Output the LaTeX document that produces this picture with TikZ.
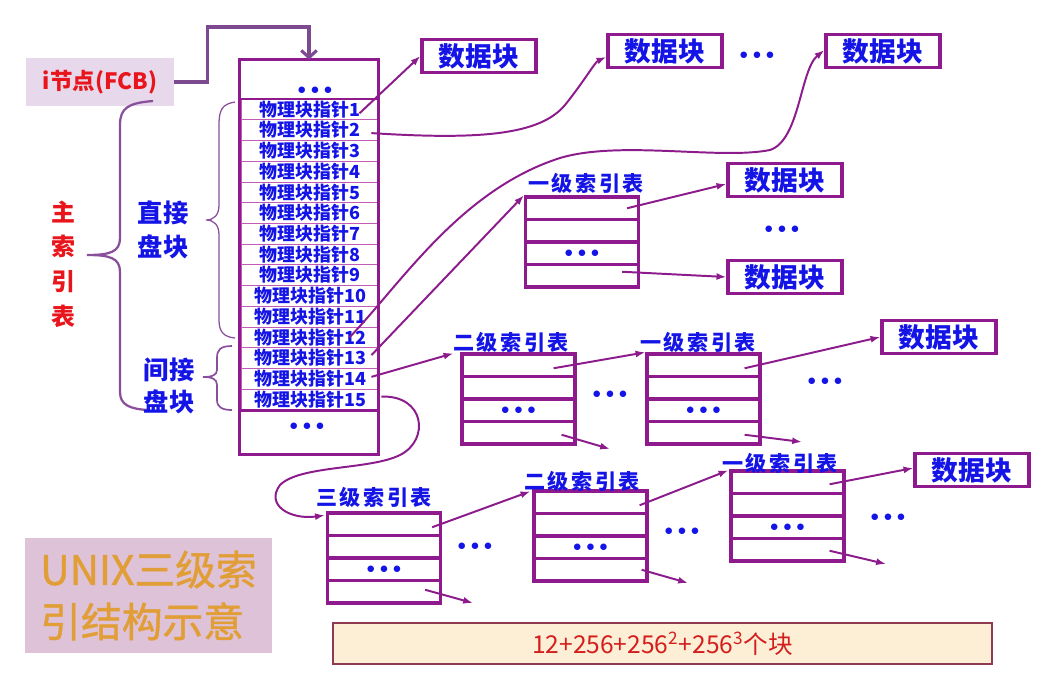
\documentclass[tikz,border=0pt]{standalone}
\usepackage{fontspec}
\setmainfont{Noto Sans CJK SC}
\usetikzlibrary{arrows.meta,calc,positioning}
\definecolor{tblPurple}{HTML}{8E1A8E}
\definecolor{gridPink}{HTML}{C25BB6}
\definecolor{lnkPurple}{HTML}{8C1C8C}
\definecolor{bracePurple}{HTML}{8A4F9C}
\definecolor{inodeLine}{HTML}{7D4A90}
\definecolor{ptrBlue}{HTML}{1414E6}
\definecolor{hiRed}{HTML}{E8161C}
\definecolor{inodeFill}{HTML}{E7D8EB}
\definecolor{unixFill}{HTML}{DDC2D8}
\definecolor{unixGold}{HTML}{E29E36}
\definecolor{sumFill}{HTML}{FDEFD5}
\definecolor{sumEdge}{HTML}{8E3A50}
\definecolor{sumRed}{HTML}{D41E1E}

\newcommand{\bdots}{$\mathord{\bullet}\mkern5mu\mathord{\bullet}\mkern5mu\mathord{\bullet}$}

\begin{document}
\begin{tikzpicture}[x=0.025cm,y=-0.025cm,
  ptrrow/.style={draw=gridPink,line width=.6pt,minimum width=3.45cm,minimum height=.518cm,
    inner sep=0pt,text=ptrBlue,font=\bfseries\fontsize{12.8}{12.8}\selectfont},
  idxrow/.style={draw=tblPurple,line width=2.4pt,minimum width=2.82cm,minimum height=.5625cm,inner sep=0pt},
  datablk/.style={draw=tblPurple,line width=2.3pt,minimum width=2.85cm,minimum height=.82cm,
    inner sep=0pt,text=ptrBlue,font=\bfseries\fontsize{19}{19}\selectfont},
  idxtitle/.style={text=ptrBlue,font=\bfseries\fontsize{15}{15}\selectfont\addfontfeature{LetterSpace=12},inner sep=0pt},
  dotsrow/.style={text=ptrBlue,font=\fontsize{13}{13}\selectfont,inner sep=0pt},
  link/.style={lnkPurple,line width=1.4pt,-{Latex[length=7pt,width=5pt]}}]
  \useasboundingbox (0,0) rectangle (1058,699);

  % main index table
  \node[draw=gridPink,line width=.6pt,minimum width=3.45cm,minimum height=.975cm,inner sep=0pt] (ptop) at (309,79.5) {};
  \foreach \i in {1,...,15}
    \node[ptrrow] (p\i) at (310,{99+(\i-0.5)*20.73}) {物理块指针\i};
  \node[draw=gridPink,line width=.6pt,minimum width=3.45cm,minimum height=1.1cm,inner sep=0pt] (pbot) at (309,432) {};
  \draw[tblPurple,line width=2.4pt] (ptop.north west) rectangle (pbot.south east);
  \draw[tblPurple,line width=1.4pt] (p1.north west) -- (p1.north east);
  \draw[tblPurple,line width=2pt] (p15.south west) -- (p15.south east);
  \node[dotsrow] (topdots) at (315,91) {\bdots};
  \node[dotsrow] (botdots) at (307,427) {\bdots};

  % i-node
  \node[fill=inodeFill,minimum width=3.7cm,minimum height=1.175cm,inner sep=0pt,text=hiRed,
    font=\bfseries\fontsize{16}{16}\selectfont] (inode) at (100,82) {i节点(FCB)};
  \draw[inodeLine,line width=2.2pt,-{Straight Barb[length=5pt,width=11pt]}]
    (inode.east) -- ++(33,0) -- ++(0,-55) -| (ptop.north);

  % braces and their labels
  \draw[bracePurple,line width=1.6pt] (153,101) .. controls (128,103) and (120,108) .. (120,125)
    -- (120,238) .. controls (120,252) and (110,255) .. (87,255)
    .. controls (110,255) and (120,258) .. (120,272) -- (120,392)
    .. controls (120,405) and (130,409) .. (148,410);
  \draw[bracePurple,line width=.9pt] (235,102) .. controls (222,104) and (219,110) .. (219,125)
    -- (219,205) .. controls (219,215) and (214,220) .. (206,220)
    .. controls (214,220) and (219,225) .. (219,235) -- (219,320)
    .. controls (219,332) and (224,337) .. (235,338);
  \draw[bracePurple,line width=1.2pt] (232,346) .. controls (220,346) and (217,350) .. (217,358)
    -- (217,370) .. controls (217,375) and (212,377) .. (203,377)
    .. controls (212,377) and (217,379) .. (217,385) -- (217,400)
    .. controls (217,407) and (222,410) .. (232,410);
  \node[text=hiRed,align=center,font=\bfseries\fontsize{17}{24.6}\selectfont] (mainlbl) at (63,264) {主\\索\\引\\表};
  \node[text=ptrBlue,align=center,font=\bfseries\fontsize{18}{24.6}\selectfont] (direct) at (163,230) {直接\\盘块};
  \node[text=ptrBlue,align=center,font=\bfseries\fontsize{18}{22.8}\selectfont] (indirect) at (169,386) {间接\\盘块};

  % data blocks
  \node[datablk] (d1) at (479,56) {数据块};
  \node[datablk] (d2) at (665,51) {数据块};
  \node[datablk] (d3) at (883,51) {数据块};
  \node[datablk] (d4) at (785,180) {数据块};
  \node[datablk] (d5) at (785,277) {数据块};
  \node[datablk] (d6) at (939,337) {数据块};
  \node[datablk] (d7) at (972,470) {数据块};

  % index tables
  \foreach \t/\cx/\top in {A/582/197,B/518.5/354,C/703.5/354,D/384/513,E/590.5/491,F/787.5/471}{
    \foreach \r in {1,...,4}
      \node[idxrow] (\t\r) at (\cx,{\top+(\r-0.5)*22.5}) {};
    \node[dotsrow] (\t-dots) at (\t3) {\bdots};
  }
  \node[idxtitle] (At) at (586,183) {一级索引表};
  \node[idxtitle] (Bt) at (511,342) {二级索引表};
  \node[idxtitle] (Ct) at (698,342) {一级索引表};
  \node[idxtitle] (Dt) at (374,497) {三级索引表};
  \node[idxtitle] (Et) at (582,481) {二级索引表};
  \node[idxtitle] (Ft) at (780,463) {一级索引表};

  % ellipses between blocks
  \node[dotsrow] (dotsA) at (757,56) {\bdots};
  \node[dotsrow] (dotsB) at (782,230) {\bdots};
  \node[dotsrow] (dotsC) at (610,395) {\bdots};
  \node[dotsrow] (dotsD) at (825,382) {\bdots};
  \node[dotsrow] (dotsE) at (475,547) {\bdots};
  \node[dotsrow] (dotsF) at (682,532) {\bdots};
  \node[dotsrow] (dotsG) at (888,518) {\bdots};

  % pointers from the main table
  \draw[link] ($(p1.east)+(-20,4)$) -- (d1.west);
  \draw[link] ($(p2.east)+(-8,3)$) .. controls (480,140) and (540,135) .. (565,105)
    .. controls (585,80) and (595,62) .. ($(d2.west)+(0,6)$);
  \draw[link] ($(p12.east)+(-30,0)$) .. controls (400,285) and (460,190) .. (560,158)
    .. controls (620,140) and (720,160) .. (770,150)
    .. controls (800,140) and (800,70) .. ($(d3.west)+(0,-1)$);
  \draw[link] ($(p13.east)+(-8,-3)$) -- (A1.north west);
  \draw[link] ($(p14.east)+(-8,-2)$) -- ($(B1.north west)+(-7,1)$);
  \draw[link] ($(p15.east)+(2,-3)$) .. controls (425,395) and (430,440) .. (400,455)
    .. controls (370,470) and (300,465) .. (280,485)
    .. controls (265,505) and (290,520) .. ($(D1.north west)+(-1,4)$);

  % pointers between index tables
  \coordinate (Bout) at (610,449);
  \coordinate (Cout) at (802,442);
  \coordinate (Dout) at (473,603);
  \coordinate (Eout) at (688,583);
  \coordinate (Fout) at (886,564);
  \draw[link] ($(A1.east)+(-13,0)$) -- ($(d4.west)+(0,4)$);
  \draw[link] ($(A4.east)+(-18,-4)$) -- (d5.west);
  \draw[link] ($(B1.east)+(-23,3)$) -- (C1.north west);
  \draw[link] ($(B4.east)+(-15,2)$) -- (Bout);
  \draw[link] ($(C1.east)+(-17,3)$) -- (d6.west);
  \draw[link] ($(C4.east)+(-17,2)$) -- (Cout);
  \draw[link] ($(D1.east)+(-10,3)$) -- ($(E1.north west)+(-2,2)$);
  \draw[link] ($(D4.east)+(-17,-2)$) -- (Dout);
  \draw[link] ($(E1.east)+(-9,3)$) -- ($(F1.north west)+(-1,1)$);
  \draw[link] ($(E4.east)+(-7,0)$) -- (Eout);
  \draw[link] ($(F1.east)+(-16,2)$) -- ($(d7.west)+(0,-2)$);
  \draw[link] ($(F4.east)+(-16,1)$) -- (Fout);

  % caption and total
  \node[fill=unixFill,minimum width=6.175cm,minimum height=2.875cm,align=left,text=unixGold,
    font=\fontsize{29}{37}\selectfont\addfontfeature{FakeBold=1.2}] (unixbox) at (148.5,595.5) {UNIX三级索\\引结构示意};
  \node[fill=sumFill,draw=sumEdge,line width=1.2pt,minimum width=16.475cm,minimum height=1.025cm,
    inner sep=0pt,text=sumRed,font=\fontsize{17.5}{17.5}\selectfont] (sum) at (662.5,643.5)
    {12+256+256\textsuperscript{2}+256\textsuperscript{3}个块};
\end{tikzpicture}
\end{document}
